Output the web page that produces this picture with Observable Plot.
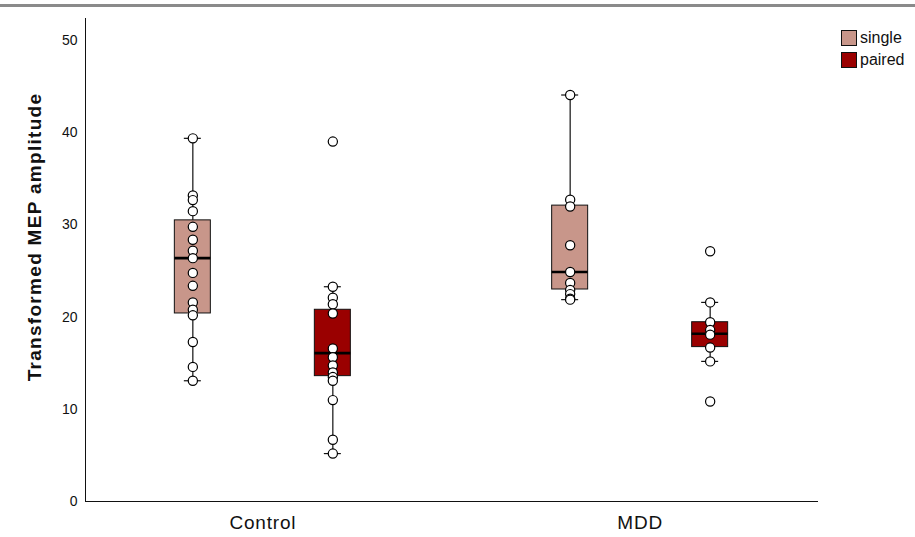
<!DOCTYPE html>
<html><head><meta charset="utf-8">
<script src="https://cdn.jsdelivr.net/npm/d3@7"></script>
<script src="https://cdn.jsdelivr.net/npm/@observablehq/plot@0.6"></script>
<style>
body{margin:0;background:#fff;font-family:"Liberation Sans",Arial,Helvetica,sans-serif;}
#wrap{position:relative;width:915px;height:537px;overflow:hidden;}
#topline{position:absolute;left:0;top:4px;width:915px;height:3px;background:#8a8a8a;}
#ylabel{position:absolute;left:35px;top:237px;transform:translate(-50%,-50%) rotate(-90deg);font-weight:bold;font-size:19px;letter-spacing:1.3px;white-space:nowrap;color:#111;}
#legend{position:absolute;left:841px;top:27px;font-size:16px;color:#111;}
#legend .row{display:flex;align-items:center;height:22px;}
#legend .sw{width:14px;height:14px;border:1px solid #111;margin-right:3px;}
#chart{position:absolute;left:0;top:0;}
</style></head><body>
<div id="wrap">
<div id="chart"></div>
<div id="topline"></div>
<div id="ylabel">Transformed MEP amplitude</div>
<div id="legend"></div>
</div>
<script>
// categories
const groupNames = ["Control", "MDD"];
const typeNames = ["single", "paired"];
// box summaries (one entry per box)
const boxGroup = ["Control", "Control", "MDD", "MDD"];
const boxType = ["single", "paired", "single", "paired"];
const whiskerLow = [13.1, 5.2, 21.9, 15.2];
const q1 = [20.4, 13.6, 23.0, 16.75];
const median = [26.4, 16.1, 24.9, 18.2];
const q3 = [30.5, 20.8, 32.1, 19.45];
const whiskerHigh = [39.4, 23.3, 44.1, 21.6];
// individual observations
const controlSingle = [39.4, 33.2, 32.7, 31.5, 29.8, 28.4, 27.2, 26.4, 24.8, 23.4, 21.6, 20.8, 20.2, 17.3, 14.6, 13.1];
const controlPaired = [39.05, 23.3, 22.1, 21.4, 20.4, 16.6, 15.65, 14.75, 14.0, 13.5, 13.1, 11.0, 6.7, 5.2];
const mddSingle = [44.1, 32.75, 32.0, 27.8, 24.9, 23.7, 22.95, 22.5, 22.0, 21.9];
const mddPaired = [27.15, 21.6, 19.45, 18.6, 18.1, 16.7, 15.2, 10.85];
// y ticks
const yTicks = [0, 10, 20, 30, 40, 50];

const stats = boxGroup.map((g, i) => ({group: g, type: boxType[i], lo: whiskerLow[i], q1: q1[i], med: median[i], q3: q3[i], hi: whiskerHigh[i]}));
const points = [
  ...controlSingle.map(v => ({group: "Control", type: "single", v})),
  ...controlPaired.map(v => ({group: "Control", type: "paired", v})),
  ...mddSingle.map(v => ({group: "MDD", type: "single", v})),
  ...mddPaired.map(v => ({group: "MDD", type: "paired", v}))
];

const colors = {single: "#c8968a", paired: "#9a0000"};
const offset = {single: -70, paired: 70};
const W = 915, H = 537, ML = 85, MR = 98, MT = 18, MB = 36;
const PI = 0.1, PO = 0.02;
const bw = d3.scaleBand(groupNames, [ML, W - MR]).paddingInner(PI).paddingOuter(PO).bandwidth();
const BOX = 36, CAP = 17;
const boxInset = (bw - BOX) / 2, capInset = (bw - CAP) / 2;

function layer(t) {
  const s = stats.filter(d => d.type === t);
  const p = points.filter(d => d.type === t);
  const dx = offset[t];
  return [
    Plot.ruleX(s, {x: "group", y1: "lo", y2: "hi", dx, stroke: "#111", strokeWidth: 1.2}),
    Plot.tickY(s, {x: "group", y: "lo", dx, stroke: "#111", strokeWidth: 1.2, insetLeft: capInset, insetRight: capInset}),
    Plot.tickY(s, {x: "group", y: "hi", dx, stroke: "#111", strokeWidth: 1.2, insetLeft: capInset, insetRight: capInset}),
    Plot.barY(s, {x: "group", y1: "q1", y2: "q3", dx, fill: colors[t], stroke: "#111", strokeWidth: 1, insetLeft: boxInset, insetRight: boxInset}),
    Plot.tickY(s, {x: "group", y: "med", dx, stroke: "#000", strokeWidth: 2.6, insetLeft: boxInset, insetRight: boxInset}),
    Plot.dot(p, {x: "group", y: "v", dx, r: 4.6, fill: "#fff", stroke: "#000", strokeWidth: 1.2})
  ];
}

const chart = Plot.plot({
  width: W, height: H,
  marginLeft: ML, marginRight: MR, marginTop: MT, marginBottom: MB,
  style: {fontFamily: '"Liberation Sans", Arial, Helvetica, sans-serif', color: "#111", background: "transparent"},
  x: {domain: groupNames, paddingInner: PI, paddingOuter: PO, round: false, tickSize: 0, tickPadding: 14, label: null, line: true},
  y: {domain: [0, 52.4], ticks: yTicks, tickSize: 0, tickPadding: 8, label: null, line: true},
  marks: [
    ...layer("single"),
    ...layer("paired")
  ]
});
// axis font sizes
chart.querySelectorAll('[aria-label="x-axis"] text, [aria-label="x-axis tick label"] text').forEach(t => { t.setAttribute("font-size", "19"); t.setAttribute("letter-spacing", "0.8"); });
chart.querySelectorAll('[aria-label="y-axis"] text, [aria-label="y-axis tick label"] text').forEach(t => t.setAttribute("font-size", "14"));
document.getElementById("chart").appendChild(chart);

const legend = document.getElementById("legend");
typeNames.forEach(t => {
  const row = document.createElement("div");
  row.className = "row";
  const sw = document.createElement("div");
  sw.className = "sw";
  sw.style.background = colors[t];
  const lab = document.createElement("span");
  lab.textContent = t;
  row.appendChild(sw); row.appendChild(lab);
  legend.appendChild(row);
});
</script>
</body></html>
